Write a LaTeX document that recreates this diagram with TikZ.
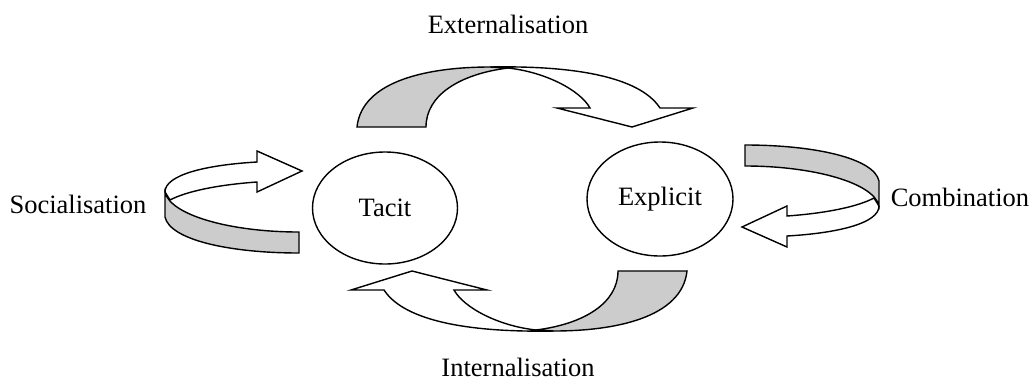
\documentclass[tikz,border=0pt]{standalone}
\usepackage{fontspec}
\setmainfont{Liberation Serif}
\usetikzlibrary{shapes.geometric}
\definecolor{bandgray}{RGB}{204,204,204}

\begin{document}
\begin{tikzpicture}[x=1pt,y=-1pt,
  line width=1.4pt, line join=miter,
  labeltext/.style={font=\fontsize{26.5}{30}\selectfont, inner sep=0pt},
  knowledge/.style={draw, ellipse, inner sep=0pt, font=\fontsize{26.5}{30}\selectfont},
  grayband/.style={draw, fill=bandgray},
  whiteband/.style={draw, fill=white}]
\useasboundingbox (0,0) rectangle (1036,381);

% the two kinds of knowledge
\node[knowledge, minimum width=145pt, minimum height=112pt] (tacit) at (385,208) {Tacit};
\node[knowledge, minimum width=146pt, minimum height=114pt] (explicit) at (660,199) {Explicit};

% each pair of arrows is one shape turned half round
\foreach \ang in {0,180}{
\begin{scope}[rotate around={\ang:(522,199)}]
% over / under arrow
\draw[whiteband] (490,67) .. controls (600,65) and (645,85) .. (660,108) -- (693,108) -- (632,127) -- (557,108) -- (590,108) .. controls (580,90) and (545,72) .. (508,68) -- cycle;
\draw[grayband] (357,127) .. controls (362,80) and (430,67) .. (490,67) -- (508,68) .. controls (460,74) and (426,95) .. (426,127) -- cycle;
% side arrow
\draw[whiteband] (257,162) -- (257,151) -- (302,171) -- (257,192) -- (257,182) .. controls (215,185) and (185,192) .. (170,200) -- (165,192) .. controls (165,175) and (205,165) .. (257,162) -- cycle;
\draw[grayband] (165,192) .. controls (170,215) and (230,232) .. (299,232) -- (299,253) .. controls (230,253) and (170,240) .. (165,217) -- cycle;
\end{scope}
}

% labels
\node[labeltext] (ext) at (508,24) {Externalisation};
\node[labeltext] (int) at (518,367) {Internalisation};
\node[labeltext] (soc) at (78,204) {Socialisation};
\node[labeltext] (comb) at (960,197) {Combination};
\end{tikzpicture}
\end{document}
